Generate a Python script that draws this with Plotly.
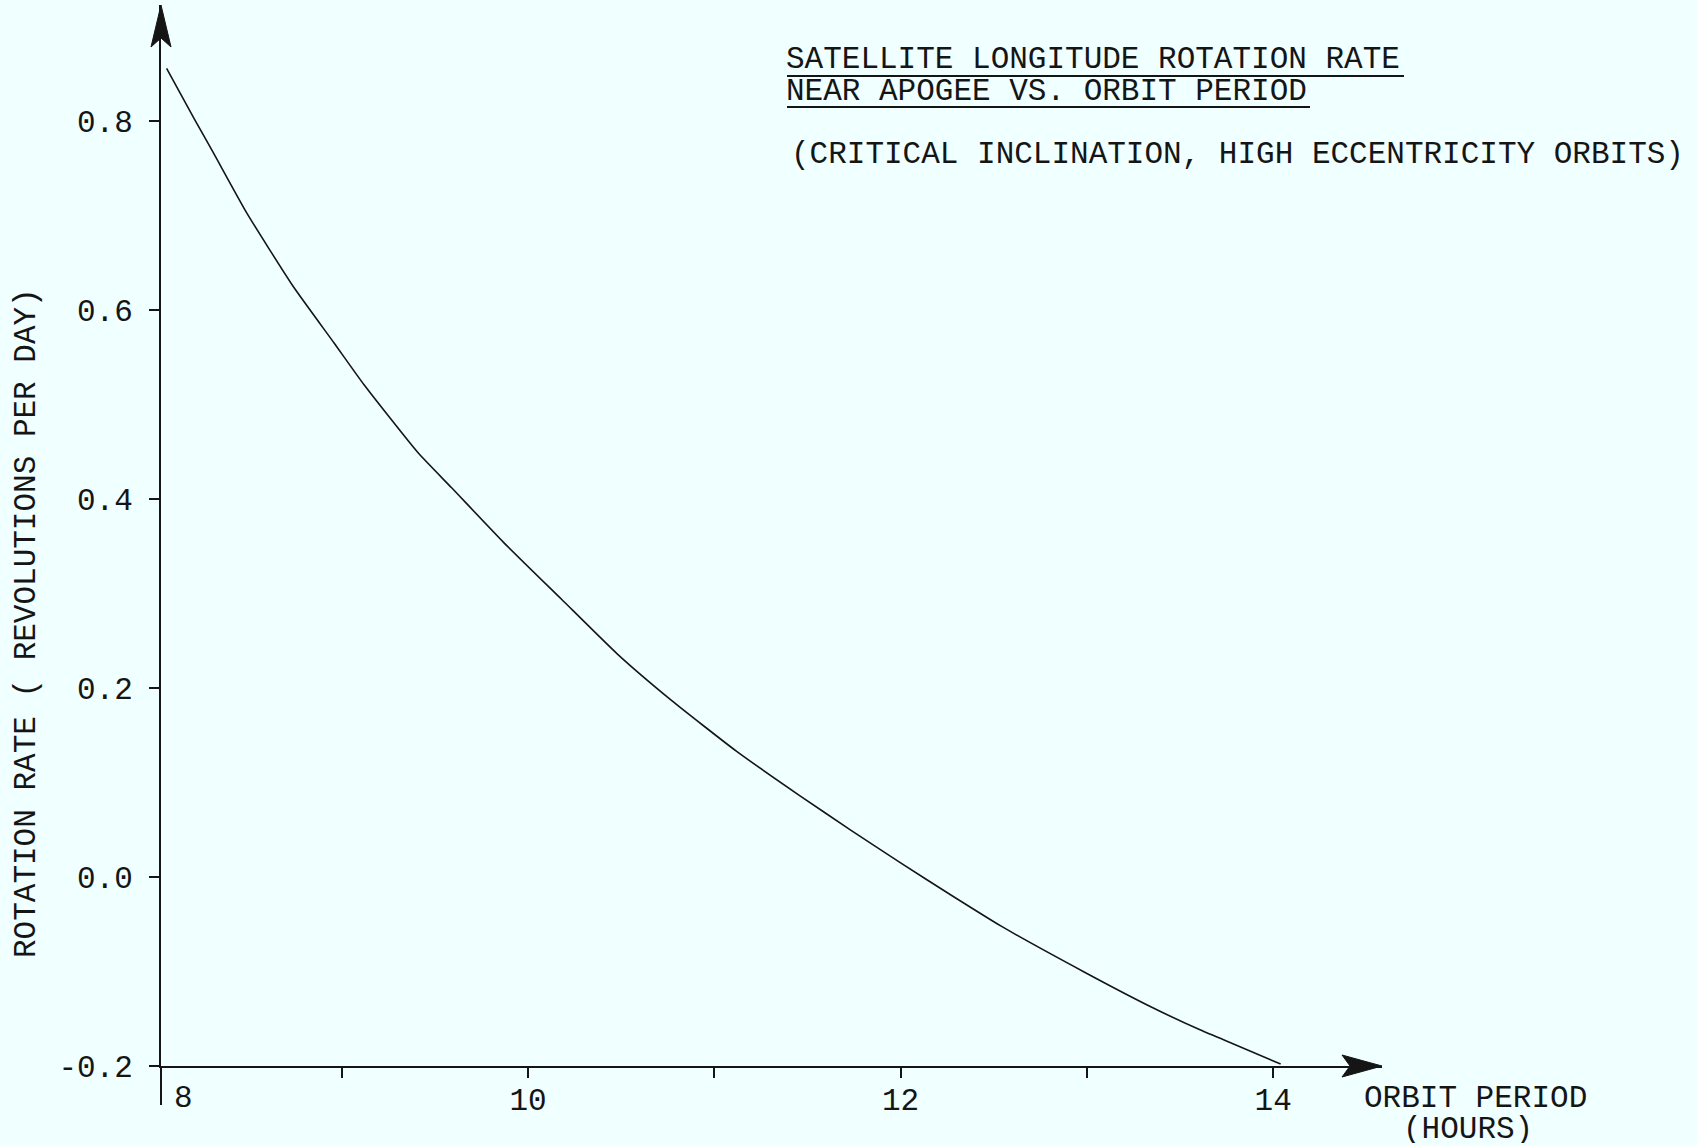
import plotly.graph_objects as go

# ---- data ----
orbit_period_hours = [8.06, 8.21, 8.31, 8.49, 8.74, 8.96, 9.12, 9.41, 9.59, 9.87,
                      10.18, 10.48, 10.77, 11.12, 11.46, 11.73, 12.00, 12.27, 12.54,
                      12.99, 13.34, 13.61, 13.79, 14.04]
rotation_rate = [0.856, 0.802, 0.767, 0.703, 0.625, 0.565, 0.521, 0.449, 0.412, 0.354,
                 0.294, 0.236, 0.187, 0.133, 0.086, 0.050, 0.015, -0.019, -0.052,
                 -0.101, -0.137, -0.162, -0.177, -0.198]

x_tick_vals = [9, 10, 11, 12, 13, 14]
x_tick_text = ["", "10", "", "12", "", "14"]
y_tick_vals = [-0.2, 0.0, 0.2, 0.4, 0.6, 0.8]
y_tick_text = ["-0.2", "0.0", "0.2", "0.4", "0.6", "0.8"]

title_line1 = "SATELLITE LONGITUDE ROTATION RATE"
title_line2 = "NEAR APOGEE VS. ORBIT PERIOD"
subtitle = "(CRITICAL INCLINATION, HIGH ECCENTRICITY ORBITS)"
y_title = "ROTATION RATE ( REVOLUTIONS PER DAY)"
x_title_1 = "ORBIT PERIOD"
x_title_2 = "(HOURS)"

# ---- layout geometry ----
W, H = 1697, 1146
L, R, T, B = 161, 315, 5, 80
PW, PH = W - L - R, H - T - B
BG = "#f0ffff"
INK = "#151515"
FONT = "Liberation Mono, Courier New, monospace"
FS = 31


def px(xp):
    return (xp - L) / PW


def py(yp):
    return 1 - (yp - T) / PH


x_per_px = 1 / 186.3
y_per_px = 1 / 944.8
x_range = [8.030, 8.030 + PW * x_per_px]
y_range = [-0.2, -0.2 + PH * y_per_px]

fig = go.Figure()
fig.add_trace(go.Scatter(
    x=orbit_period_hours, y=rotation_rate, mode="lines",
    line=dict(color=INK, width=1.6, shape="spline", smoothing=0.5),
    showlegend=False, hoverinfo="skip",
))

fig.update_layout(
    width=W, height=H,
    margin=dict(l=L, r=R, t=T, b=B),
    paper_bgcolor=BG, plot_bgcolor=BG,
    font=dict(family=FONT, size=FS, color=INK),
    xaxis=dict(range=x_range, showgrid=False, zeroline=False,
               showline=True, linecolor=INK, linewidth=2,
               ticks="outside", ticklen=10, tickwidth=2, tickcolor=INK,
               tickvals=x_tick_vals, ticktext=x_tick_text,
               ticklabelstandoff=-5,
               tickfont=dict(family=FONT, size=FS, color=INK)),
    yaxis=dict(range=y_range, showgrid=False, zeroline=False,
               showline=True, linecolor=INK, linewidth=2,
               ticks="outside", ticklen=10, tickwidth=2, tickcolor=INK,
               tickvals=y_tick_vals, ticktext=y_tick_text,
               ticklabelstandoff=10,
               tickfont=dict(family=FONT, size=FS, color=INK)),
)

shapes = []
# y-axis extension below the x-axis
shapes.append(dict(type="line", xref="paper", yref="paper", x0=0, x1=0,
                   y0=0, y1=py(1105), line=dict(color=INK, width=2)))
# arrowheads
shapes.append(dict(type="path", xref="paper", yref="paper",
                   xsizemode="pixel", ysizemode="pixel", xanchor=0, yanchor=1,
                   path="M 0 0 L -10 -42 L 0 -33 L 10 -42 Z",
                   fillcolor=INK, line=dict(color=INK, width=1)))
shapes.append(dict(type="path", xref="paper", yref="paper",
                   xsizemode="pixel", ysizemode="pixel", xanchor=1, yanchor=0,
                   path="M 0 0 L -40 11 L -32 0 L -40 -11 Z",
                   fillcolor=INK, line=dict(color=INK, width=1)))
# title underlines
shapes.append(dict(type="line", xref="paper", yref="paper",
                   x0=px(787), x1=px(1404), y0=py(76), y1=py(76),
                   line=dict(color=INK, width=2)))
shapes.append(dict(type="line", xref="paper", yref="paper",
                   x0=px(787), x1=px(1310), y0=py(107), y1=py(107),
                   line=dict(color=INK, width=2)))
fig.update_layout(shapes=shapes)

ann = []


def add_text(text, xp, yp, xanchor="center", angle=0, height=None):
    a = dict(text=text, xref="paper", yref="paper", x=px(xp), y=py(yp),
             xanchor=xanchor, yanchor="middle", showarrow=False,
             textangle=angle, font=dict(family=FONT, size=FS, color=INK))
    if height is not None:
        a["height"] = height
        a["borderpad"] = 0
    ann.append(a)


add_text(title_line1, 785, 59, xanchor="left", height=28)
add_text(title_line2, 785, 91, xanchor="left", height=28)
add_text(subtitle, 789, 155, xanchor="left")
add_text(y_title, 26, 623, angle=-90)
add_text("8", 183, 1098)
add_text(x_title_1, 1475, 1098, height=28)
add_text(x_title_2, 1468, 1129, height=28)
fig.update_layout(annotations=ann)

fig.write_html("out.html", config={"displayModeBar": False},
               post_script="document.body.style.margin='0';")
